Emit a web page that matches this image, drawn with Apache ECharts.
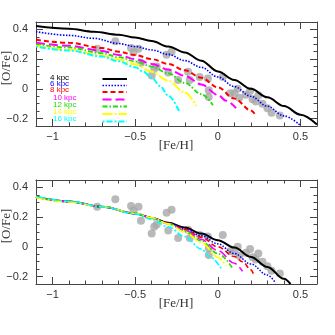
<!DOCTYPE html>
<html><head><meta charset="utf-8">
<script src="https://cdn.jsdelivr.net/npm/echarts@6/dist/echarts.min.js"></script>
<style>html,body{margin:0;padding:0;background:#fff}#c{width:335px;height:335px}</style>
</head><body><div id="c"></div>
<script>
// ---------- data ----------
const xMajor = [-1, -0.5, 0, 0.5];
const yMajor = [-0.2, 0, 0.2, 0.4];
const names = ['4 kpc','6 kpc','8 kpc','10 kpc','12 kpc','14 kpc','16 kpc'];

// upper panel model curves [ [Fe/H], [O/Fe] ]
const top4  = [[-1.1,0.423],[-0.9,0.405],[-0.75,0.385],[-0.6,0.365],[-0.5,0.345],[-0.4,0.322],[-0.3,0.285],[-0.2,0.245],[-0.1,0.19],[0,0.117],[0.1,0.06],[0.2,0.0],[0.3,-0.057],[0.4,-0.116],[0.5,-0.174],[0.6,-0.24]];
const top6  = [[-1.1,0.385],[-0.9,0.36],[-0.75,0.34],[-0.6,0.305],[-0.5,0.285],[-0.4,0.262],[-0.3,0.232],[-0.2,0.19],[-0.1,0.145],[0,0.08],[0.1,0.015],[0.2,-0.05],[0.3,-0.117],[0.4,-0.182],[0.5,-0.246]];
const top8  = [[-1.1,0.33],[-0.9,0.31],[-0.7,0.275],[-0.6,0.25],[-0.5,0.228],[-0.4,0.2],[-0.3,0.168],[-0.2,0.125],[-0.1,0.075],[0,0.01],[0.1,-0.065],[0.2,-0.145],[0.23,-0.18]];
const top10 = [[-1.1,0.31],[-0.9,0.29],[-0.7,0.255],[-0.6,0.228],[-0.5,0.2],[-0.4,0.168],[-0.3,0.13],[-0.2,0.088],[-0.1,0.03],[0,-0.04],[0.05,-0.08],[0.11,-0.13]];
const top12 = [[-1.1,0.3],[-0.9,0.278],[-0.7,0.24],[-0.6,0.213],[-0.5,0.185],[-0.4,0.15],[-0.3,0.105],[-0.2,0.04],[-0.1,-0.035],[-0.03,-0.11]];
const top14 = [[-1.1,0.29],[-0.9,0.265],[-0.7,0.225],[-0.6,0.197],[-0.5,0.165],[-0.4,0.115],[-0.3,0.055],[-0.2,-0.025],[-0.13,-0.115]];
const top16 = [[-1.1,0.285],[-0.9,0.258],[-0.7,0.218],[-0.6,0.185],[-0.5,0.145],[-0.45,0.115],[-0.4,0.075],[-0.35,0.02],[-0.3,-0.045],[-0.23,-0.16]];

// lower panel model curves
const bot4  = [[-1.1,0.335],[-0.9,0.305],[-0.7,0.27],[-0.5,0.225],[-0.4,0.195],[-0.3,0.162],[-0.2,0.13],[-0.1,0.09],[0,0.045],[0.1,-0.005],[0.2,-0.068],[0.3,-0.135],[0.4,-0.215],[0.44,-0.25]];
const bot6  = [[-1.1,0.335],[-0.9,0.305],[-0.7,0.27],[-0.5,0.225],[-0.4,0.195],[-0.3,0.16],[-0.2,0.123],[-0.1,0.075],[0,0.02],[0.1,-0.045],[0.2,-0.115],[0.3,-0.19],[0.35,-0.245]];
const bot8  = [[-1.1,0.335],[-0.9,0.305],[-0.7,0.27],[-0.5,0.225],[-0.4,0.195],[-0.3,0.158],[-0.2,0.118],[-0.1,0.065],[0,0.0],[0.1,-0.065],[0.15,-0.1],[0.2,-0.155],[0.22,-0.195]];
const bot10 = [[-1.1,0.335],[-0.9,0.305],[-0.7,0.27],[-0.5,0.225],[-0.4,0.195],[-0.3,0.157],[-0.2,0.112],[-0.1,0.05],[0,-0.025],[0.1,-0.11],[0.15,-0.165]];
const bot12 = [[-1.1,0.335],[-0.9,0.305],[-0.7,0.27],[-0.5,0.225],[-0.4,0.195],[-0.3,0.155],[-0.2,0.105],[-0.1,0.04],[0,-0.045],[0.09,-0.145]];
const bot14 = [[-1.1,0.33],[-0.9,0.302],[-0.7,0.27],[-0.5,0.226],[-0.4,0.196],[-0.3,0.155],[-0.2,0.1],[-0.1,0.03],[0,-0.07],[0.05,-0.13]];
const bot16 = [[-1.1,0.34],[-0.9,0.307],[-0.7,0.27],[-0.5,0.222],[-0.4,0.185],[-0.3,0.135],[-0.2,0.07],[-0.1,-0.015],[-0.05,-0.065],[0.02,-0.145]];

// observed stars
const obsFeH = [-0.73,-0.62,-0.525,-0.48,-0.51,-0.465,-0.385,-0.40,-0.37,-0.31,-0.28,-0.30,-0.24,-0.17,-0.18,-0.11,-0.06,-0.055,-0.055,0.03,0.075,0.12,0.13,0.17,0.195,0.21,0.245,0.27,0.30,0.325,0.375,0.10,0.23];
const obsOFe = [0.27,0.32,0.275,0.27,0.245,0.175,0.135,0.09,0.15,0.23,0.25,0.11,0.06,0.06,0.115,0.08,0.07,-0.01,-0.055,0.08,-0.03,0.0,-0.06,-0.04,-0.015,-0.07,-0.045,-0.1,-0.13,-0.16,-0.18,-0.03,-0.085];

// ---------- styling ----------
const colors = ['#000000','#0000ff','#ff0000','#ff00ff','#22dd00','#ffff00','#00ffff'];
const dashes = ['solid',[1.5,1.5],[5,3],[9,4],[5,2,1.5,2],[10,2,2,2],[2,2,6,2]];
const widths = [2,1.6,2,2,1.8,2,2];
const botWidths = [2,1.5,1.6,1.6,1.6,1.6,1.6];
const topCurves = [top4,top6,top8,top10,top12,top14,top16];
const botCurves = [bot4,bot6,bot8,bot10,bot12,bot14,bot16];

const axCol = '#444';
const fmt = v => (v < 0 ? '\u2212' : '') + Math.abs(v);
const grids = [
  {left:36, top:22, width:281, height:104},
  {left:36, top:180, width:281, height:104}
];
const xAxis = [], yAxis = [];
grids.forEach((g, gi) => {
  const common = {gridIndex:gi, type:'value', min:-1.1, max:0.6, splitLine:{show:false}};
  xAxis.push(Object.assign({}, common, {position:'bottom', interval:0.1,
    axisLine:{show:true, onZero:false, lineStyle:{color:axCol, width:1}}, axisTick:{show:true, inside:true, length:3.5, lineStyle:{color:axCol}}, axisLabel:{show:false}}));
  xAxis.push(Object.assign({}, common, {position:'bottom', interval:0.1,
    axisLine:{show:false, onZero:false}, axisTick:{show:true, inside:true, length:7, customValues:xMajor, lineStyle:{color:axCol}},
    axisLabel:{show:true, customValues:xMajor, formatter:fmt, margin:5, color:'#333', fontSize:11, fontFamily:'Liberation Sans'}}));
  xAxis.push(Object.assign({}, common, {position:'top', interval:0.1,
    axisLine:{show:true, onZero:false, lineStyle:{color:axCol, width:1}}, axisTick:{show:true, inside:true, length:3.5, lineStyle:{color:axCol}}, axisLabel:{show:false}}));
  xAxis.push(Object.assign({}, common, {position:'top', interval:0.1,
    axisLine:{show:false, onZero:false}, axisTick:{show:true, inside:true, length:7, customValues:xMajor, lineStyle:{color:axCol}}, axisLabel:{show:false}}));
  const yc = {gridIndex:gi, type:'value', min:-0.25, max:0.45, interval:0.05, splitLine:{show:false}};
  yAxis.push(Object.assign({}, yc, {position:'left',
    axisLine:{show:true, onZero:false, lineStyle:{color:axCol, width:1}}, axisTick:{show:true, inside:true, length:3.5, lineStyle:{color:axCol}}, axisLabel:{show:false}}));
  yAxis.push(Object.assign({}, yc, {position:'left',
    axisLine:{show:false, onZero:false}, axisTick:{show:true, inside:true, length:7, customValues:yMajor, lineStyle:{color:axCol}},
    axisLabel:{show:true, customValues:yMajor, formatter:fmt, margin:8, color:'#333', fontSize:11, fontFamily:'Liberation Sans'}}));
  yAxis.push(Object.assign({}, yc, {position:'right',
    axisLine:{show:true, onZero:false, lineStyle:{color:axCol, width:1}}, axisTick:{show:true, inside:true, length:3.5, lineStyle:{color:axCol}}, axisLabel:{show:false}}));
  yAxis.push(Object.assign({}, yc, {position:'right',
    axisLine:{show:false, onZero:false}, axisTick:{show:true, inside:true, length:7, customValues:yMajor, lineStyle:{color:axCol}}, axisLabel:{show:false}}));
});

const series = [];
[topCurves, botCurves].forEach((curves, gi) => {
  series.push({type:'scatter', xAxisIndex:gi*4, yAxisIndex:gi*4, z:1,
    data: obsFeH.map((x, i) => [x, obsOFe[i]]), symbol:'circle', symbolSize:8,
    itemStyle:{color:'#a8a8a8'}, silent:true});
  curves.forEach((c, i) => {
    series.push({type:'line', name:names[i], xAxisIndex:gi*4, yAxisIndex:gi*4, z:2+i,
      data:c, symbol:'none', smooth:0.35, smoothMonotone:'x', clip:true,
      lineStyle:{color:colors[i], width:(gi ? botWidths[i] : widths[i]), type:dashes[i]}, silent:true});
  });
});

// legend (upper panel)
const graphic = [];
const legTextY = [77.5, 83.5, 90, 97.5, 104.5, 112, 119];
const legLineY = [79, 85.5, 92, 99.5, 106.5, 114, 121.5];
names.forEach((n, i) => {
  graphic.push({type:'text', x: (n.length > 5 ? 53 : 50), y: legTextY[i],
    style:{text:n, fill:colors[i], font:'8px "Liberation Sans"', verticalAlign:'middle', align:'left'}});
  graphic.push({type:'line', shape:{x1:102.5, y1:legLineY[i], x2:127, y2:legLineY[i]},
    style:{stroke:colors[i], lineWidth:widths[i], lineDash: Array.isArray(dashes[i]) ? dashes[i] : null}});
});
// axis titles
[[22,126],[180,284]].forEach(([t, b]) => {
  graphic.push({type:'text', x:176, y:b+19.5,
    style:{text:'[Fe/H]', fill:'#333', font:'13px "Liberation Serif"', align:'center', verticalAlign:'middle'}});
  graphic.push({type:'text', x:7, y:(t+b)/2 - 6, rotation:Math.PI/2,
    style:{text:'[O/Fe]', fill:'#333', font:'13px "Liberation Serif"', align:'center', verticalAlign:'middle'}});
});

const chart = echarts.init(document.getElementById('c'), null, {renderer:'canvas'});
chart.setOption({animation:false, backgroundColor:'#fff', grid:grids, xAxis, yAxis, series, graphic});
</script></body></html>
